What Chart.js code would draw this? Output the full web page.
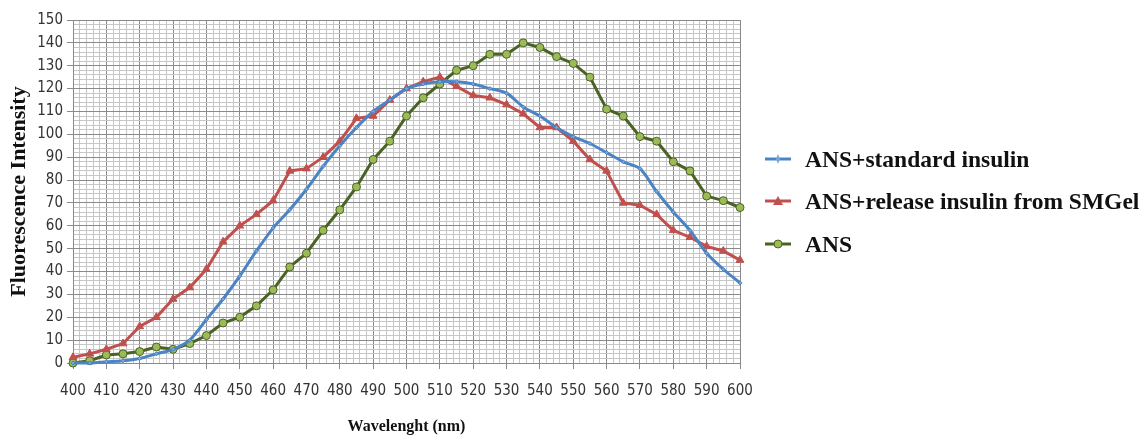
<!DOCTYPE html>
<html>
<head>
<meta charset="utf-8">
<script src="https://cdn.jsdelivr.net/npm/chart.js@4.4.1/dist/chart.umd.min.js"></script>
<style>
  body { margin: 0; background: #fff; }
  #wrap { position: relative; width: 1148px; height: 436px; }
  #legend { position: absolute; left: 0; top: 0; }
  #legend .item {
    position: absolute; left: 765px; height: 26px; white-space: nowrap;
    display: flex; align-items: center;
    font: bold 23.5px 'Liberation Serif', 'Times New Roman', serif; color: #111;
  }
  #legend svg { margin-right: 14px; }
</style>
</head>
<body>
<div id="wrap">
  <canvas id="myChart" width="1148" height="436"></canvas>
  <div id="legend"></div>
</div>
<script>
var wavelength = [400, 405, 410, 415, 420, 425, 430, 435, 440, 445,
  450, 455, 460, 465, 470, 475, 480, 485, 490, 495,
  500, 505, 510, 515, 520, 525, 530, 535, 540, 545,
  550, 555, 560, 565, 570, 575, 580, 585, 590, 595, 600];

var standardInsulin = [0, 0, 0.5, 1, 2, 4, 6, 10, 19, 28,
  38, 49, 59, 67, 76, 86, 95, 103, 110, 115,
  120, 122, 123, 123, 122, 120, 118, 112, 108, 103,
  99, 96, 92, 88, 85, 75, 66, 58, 48, 41, 35];

var releaseInsulin = [2.5, 4, 6, 8.5, 16, 20, 28, 33, 41, 53,
  60, 65, 71, 84, 85, 90, 97, 107, 108, 115,
  120, 123, 125, 121, 117, 116, 113, 109, 103, 103,
  97, 89, 84, 70, 69, 65, 58, 55, 51, 49, 45];

var ansOnly = [0, 1, 3.5, 4, 5, 7, 6, 8.5, 12, 17.5,
  20, 25, 32, 42, 48, 58, 67, 77, 89, 97,
  108, 116, 122, 128, 130, 135, 135, 140, 138, 134,
  131, 125, 111, 108, 99, 97, 88, 84, 73, 71, 68];

var seriesNames = ['ANS+standard insulin', 'ANS+release insulin from SMGel', 'ANS'];

function toPoints(values) {
  return values.map(function (v, i) { return { x: wavelength[i], y: v }; });
}

var tickFont = { family: "'Liberation Sans Narrow', 'DejaVu Sans Condensed', 'Liberation Sans', sans-serif", size: 15 };
var serifBold = "'Liberation Serif', 'Times New Roman', serif";

function gridColor(ctx) {
  return ctx.tick && ctx.tick.value % 10 === 0 ? '#8a8a8a' : '#c6c6c6';
}
function tickMarkColor(ctx) {
  return ctx.tick && ctx.tick.value % 10 === 0 ? '#8a8a8a' : 'rgba(0,0,0,0)';
}
function every10(v) {
  return v % 10 === 0 ? v : '';
}

var ctx = document.getElementById('myChart').getContext('2d');
var myChart = new Chart(ctx, {
  type: 'line',
  data: {
    datasets: [{
      label: seriesNames[0],
      data: toPoints(standardInsulin),
      borderColor: '#4a84c4',
      backgroundColor: '#7aa6da',
      borderWidth: 3,
      pointStyle: 'rectRot',
      pointRadius: 2,
      pointBorderWidth: 1,
      tension: 0.3,
      clip: 8
    }, {
      label: seriesNames[1],
      data: toPoints(releaseInsulin),
      borderColor: '#c0504d',
      backgroundColor: '#c0504d',
      borderWidth: 3,
      pointStyle: 'triangle',
      pointRadius: 4.5,
      pointBorderWidth: 1,
      tension: 0,
      clip: 8
    }, {
      label: seriesNames[2],
      data: toPoints(ansOnly),
      borderColor: '#4a6223',
      backgroundColor: '#9bbb59',
      borderWidth: 3,
      pointStyle: 'circle',
      pointRadius: 4,
      pointBorderWidth: 1,
      tension: 0,
      clip: 8
    }]
  },
  options: {
    responsive: false,
    animation: false,
    layout: { padding: { top: 20, right: 408, left: 0, bottom: 0 } },
    plugins: {
      tooltip: { enabled: false },
      legend: { display: false }
    },
    scales: {
      x: {
        type: 'linear',
        min: 400,
        max: 600,
        afterFit: function (s) { s.height = 73; },
        ticks: { stepSize: 2, autoSkip: false, maxRotation: 0, padding: 13, color: '#333', font: tickFont, callback: every10 },
        grid: { color: gridColor, tickColor: tickMarkColor, tickLength: 6 },
        border: { color: '#8a8a8a' },
        title: {
          display: true,
          text: 'Wavelenght (nm)',
          color: '#111',
          font: { family: serifBold, size: 16, weight: 'bold' },
          padding: { top: 0, bottom: 0 }
        }
      },
      y: {
        min: 0,
        max: 150,
        afterFit: function (s) { s.width = 73; },
        ticks: { stepSize: 2, autoSkip: false, padding: 4, color: '#333', font: tickFont, callback: every10 },
        grid: { color: gridColor, tickColor: tickMarkColor, tickLength: 6 },
        border: { color: '#8a8a8a' },
        title: {
          display: true,
          text: 'Fluorescence Intensity',
          color: '#111',
          font: { family: serifBold, size: 22, weight: 'bold' },
          padding: { top: 6, bottom: 0 }
        }
      }
    }
  }
});

// legend in html, built from the datasets
function markerSvg(ds) {
  var m;
  if (ds.pointStyle === 'triangle') {
    m = '<polygon points="13,1 18,10 8,10" fill="' + ds.backgroundColor + '"/>';
  } else if (ds.pointStyle === 'circle') {
    m = '<circle cx="13" cy="6" r="4" fill="' + ds.backgroundColor + '" stroke="' + ds.borderColor + '" stroke-width="1"/>';
  } else {
    m = '<polygon points="13,1 15,6 13,11 11,6" fill="' + ds.backgroundColor + '"/>';
  }
  return '<svg width="26" height="12"><line x1="0" y1="6" x2="26" y2="6" stroke="' + ds.borderColor +
    '" stroke-width="3"/>' + m + '</svg>';
}
var legendBox = document.getElementById('legend');
var rowTops = [146, 188, 231];
myChart.data.datasets.forEach(function (ds, i) {
  var row = document.createElement('div');
  row.className = 'item';
  row.style.top = rowTops[i] + 'px';
  row.innerHTML = markerSvg(ds) + '<span>' + ds.label + '</span>';
  legendBox.appendChild(row);
});
</script>
</body>
</html>
